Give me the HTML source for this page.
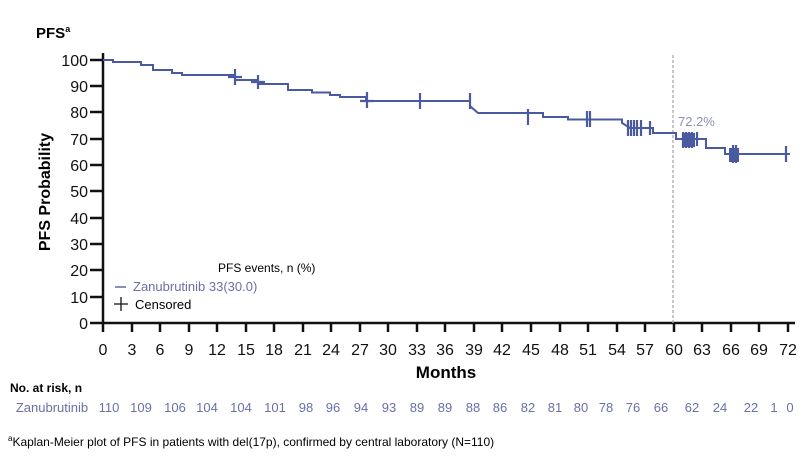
<!DOCTYPE html>
<html><head><style>
body{margin:0;background:#fff;width:808px;height:466px;overflow:hidden}
svg{font-family:"Liberation Sans",sans-serif}
</style></head><body>
<svg width="808" height="466" viewBox="0 0 808 466">
<text x="36" y="38" font-size="15" font-weight="bold">PFS<tspan font-size="9" dy="-6">a</tspan></text>
<text transform="translate(50,192) rotate(-90)" text-anchor="middle" font-size="16" font-weight="bold">PFS Probability</text>
<g font-size="16" text-anchor="end" fill="#111">
<text x="88" y="66">100</text><text x="88" y="92">90</text><text x="88" y="118">80</text><text x="88" y="145">70</text><text x="88" y="171">60</text><text x="88" y="197">50</text><text x="88" y="224">40</text><text x="88" y="250">30</text><text x="88" y="276">20</text><text x="88" y="303">10</text><text x="88" y="329">0</text>
</g>
<g stroke="#111" stroke-width="2.5">
<line x1="103" y1="53" x2="103" y2="324"/>
<line x1="102" y1="323" x2="795" y2="323"/>
<path d="M90 60H103M90 86H103M90 112H103M90 139H103M90 165H103M90 191H103M90 218H103M90 244H103M90 270H103M90 297H103M90 323H103"/>
<path id="xt" d="M103 323v9M132 323v9M160 323v9M189 323v9M217 323v9M246 323v9M274 323v9M303 323v9M331 323v9M360 323v9M388 323v9M417 323v9M445 323v9M474 323v9M502 323v9M531 323v9M560 323v9M588 323v9M617 323v9M645 323v9M674 323v9M702 323v9M731 323v9M759 323v9M788 323v9"/>
</g>
<g font-size="16" text-anchor="middle" fill="#111">
<text x="103" y="355">0</text><text x="132" y="355">3</text><text x="160" y="355">6</text><text x="189" y="355">9</text><text x="217" y="355">12</text><text x="246" y="355">15</text><text x="274" y="355">18</text><text x="303" y="355">21</text><text x="331" y="355">24</text><text x="360" y="355">27</text><text x="388" y="355">30</text><text x="417" y="355">33</text><text x="445" y="355">36</text><text x="474" y="355">39</text><text x="502" y="355">42</text><text x="531" y="355">45</text><text x="560" y="355">48</text><text x="588" y="355">51</text><text x="617" y="355">54</text><text x="645" y="355">57</text><text x="674" y="355">60</text><text x="702" y="355">63</text><text x="731" y="355">66</text><text x="759" y="355">69</text><text x="788" y="355">72</text>
</g>
<text x="446" y="378" font-size="17" font-weight="bold" text-anchor="middle">Months</text>
<line x1="673" y1="55" x2="673" y2="323" stroke="#aaa" stroke-width="1.3" stroke-dasharray="3,2"/>
<text x="678" y="126" font-size="13" fill="#8a8fb0">72.2%</text>
<path fill="none" stroke="#4a5aa0" stroke-width="2" d="M103 60H113V62H141V65H153V70H172V73H182V75H235V80H258V84H288V90H312V92.5H330V95H340V97H366V101H470V106L478 113H543V117H568V119.5H622V123L630 128H653V133H676V139H706V148H725V154H790"/>
<g stroke="#4a5aa0" stroke-width="2.2">
<path d="M235 69v16M228 77h14M258 75v14M251 82h14M367 92v16M360 101h14M420 93v16M470 93v16M528 109v16M587 111v16M590 111v16M628 120v16M631 120v16M634 120v16M637 120v16M641 120v16M650 121v14M683 132v16M686 132v16M689 132v16M692 132v16M697 132v14M733 145v18M736 145v18M786 146v16"/>
</g>
<rect x="682" y="133" width="13" height="14" fill="#4a5aa0"/>
<rect x="729" y="148" width="10" height="14" fill="#4a5aa0"/>
<text x="218" y="272" font-size="12">PFS events, n (%)</text>
<line x1="115" y1="287" x2="126" y2="287" stroke="#8a8fc0" stroke-width="2"/>
<text x="133" y="291" font-size="13" fill="#6a6fa8">Zanubrutinib 33(30.0)</text>
<path d="M114 304h14M121 297v14" stroke="#111" stroke-width="1.3"/>
<text x="135" y="309" font-size="13">Censored</text>
<text x="10" y="392" font-size="12" font-weight="bold">No. at risk, n</text>
<g font-size="13" fill="#6a6fa8" text-anchor="middle">
<text x="52" y="412">Zanubrutinib</text>
<text x="109" y="412">110</text><text x="141" y="412">109</text><text x="175" y="412">106</text><text x="207" y="412">104</text><text x="241" y="412">104</text><text x="275" y="412">101</text><text x="306" y="412">98</text><text x="333" y="412">96</text><text x="361" y="412">94</text><text x="389" y="412">93</text><text x="417" y="412">89</text><text x="445" y="412">89</text><text x="473" y="412">88</text><text x="500" y="412">86</text><text x="528" y="412">82</text><text x="555" y="412">81</text><text x="581" y="412">80</text><text x="606" y="412">78</text><text x="633" y="412">76</text><text x="661" y="412">66</text><text x="692" y="412">62</text><text x="720" y="412">24</text><text x="751" y="412">22</text><text x="774" y="412">1</text><text x="790" y="412">0</text>
</g>
<text x="8" y="446" font-size="12"><tspan font-size="8" dy="-5">a</tspan><tspan dy="5">Kaplan-Meier plot of PFS in patients with del(17p), confirmed by central laboratory (N=110)</tspan></text>
</svg>
</body></html>
